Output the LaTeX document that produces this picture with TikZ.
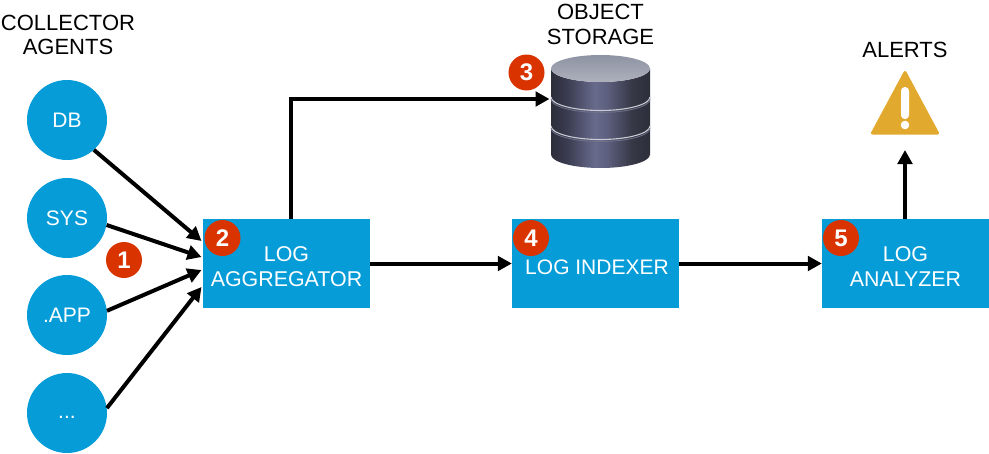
\documentclass[tikz,border=0pt]{standalone}
\usepackage{fontspec}
\setmainfont{Liberation Sans}
\usetikzlibrary{arrows.meta}
\definecolor{blu}{HTML}{059CD8}
\definecolor{badge}{HTML}{D93300}
\definecolor{warn}{HTML}{E2A92F}
\definecolor{cyla}{HTML}{2C2E3A}
\definecolor{cylb}{HTML}{3A3C50}
\definecolor{cylc}{HTML}{686A8C}
\definecolor{cyld}{HTML}{5E6080}
\definecolor{cyle}{HTML}{363846}
\definecolor{topa}{HTML}{8E93A3}
\definecolor{topb}{HTML}{AEB1BC}
\definecolor{bandl}{HTML}{C9CAD2}
\definecolor{bandd}{HTML}{70728A}
\pgfdeclarehorizontalshading{cylbody}{100bp}{
  color(0bp)=(cyla);
  color(25bp)=(cyla);
  color(33bp)=(cylb);
  color(47bp)=(cylc);
  color(53bp)=(cyld);
  color(66bp)=(cyle);
  color(75bp)=(cyla);
  color(100bp)=(cyla)}
\tikzset{
  txt/.style={font=\fontsize{22}{24.5}\selectfont,align=center,inner sep=0pt},
  agent/.style={circle,fill=blu,minimum size=80pt,inner sep=0pt,text=white,font=\fontsize{21}{24.5}\selectfont},
  box/.style={rectangle,fill=blu,minimum width=167pt,minimum height=89pt,inner sep=0pt},
  boxtxt/.style={text=white,align=center,inner sep=0pt,font=\fontsize{21.4}{24.5}\selectfont},
  num/.style={circle,fill=badge,minimum size=36pt,inner sep=0pt,text=white,font=\fontsize{24}{24}\selectfont\bfseries},
  conn/.style={draw=black,line width=4pt,-{Triangle[length=14pt,width=14.5pt]}},
  band/.style={line width=1.1pt,draw=#1}
}
\begin{document}
\begin{tikzpicture}[x=1pt,y=-1pt]
\useasboundingbox (0,0) rectangle (989,453);
% agents
\node[agent] (db) at (67,120) {DB};
\node[agent] (sys) at (67,218) {SYS};
\node[agent] (app) at (67,315) {.APP};
\node[agent] (more) at (67,413) {\raisebox{-5pt}[0pt][0pt]{...}};
% boxes
\node[box] (agg) at (286.5,263.5) {};
\node[boxtxt] (aggt) at (286.5,266.5) {LOG\\AGGREGATOR};
\node[box] (idx) at (595.5,263.5) {};
\node[boxtxt,font=\fontsize{21}{24.5}\selectfont] (idxt) at (597,267) {LOG INDEXER};
\node[box] (ana) at (905.5,263.5) {};
\node[boxtxt] (anat) at (905.5,266.5) {LOG\\ANALYZER};
% titles
\node[txt] (t1) at (68,35) {COLLECTOR\\AGENTS};
\node[txt] (t2) at (600.5,24.5) {OBJECT\\STORAGE};
\node[txt] (t3) at (905,50) {ALERTS};
% storage
\shade[shading=cylbody] (551,68.5) -- (551,154.5) arc[start angle=180,end angle=0,x radius=49.5,y radius=13.5] -- (650,68.5) arc[start angle=0,end angle=180,x radius=49.5,y radius=13.5] -- cycle;
\shade[top color=topa,bottom color=topb] (600.5,68.5) ellipse[x radius=49.5,y radius=13.5];
\draw[band=bandl] (551,97) arc[start angle=180,end angle=0,x radius=49.5,y radius=13.5];
\draw[band=bandl] (551,126) arc[start angle=180,end angle=0,x radius=49.5,y radius=13.5];
\draw[band=bandd,line width=.8pt] (551,99) arc[start angle=180,end angle=0,x radius=49.5,y radius=13.5];
\draw[band=bandd,line width=.8pt] (551,128) arc[start angle=180,end angle=0,x radius=49.5,y radius=13.5];
% alert
\fill[warn,draw=warn,line width=3pt,line join=round] (905,72.5) -- (937.5,133) -- (872.5,133) -- cycle;
\fill[white,rounded corners=3.8pt] (901,87) rectangle (909,119);
\fill[white] (905,125) circle[radius=4.3];
% coordinates
\coordinate (a1) at (201.5,241);
\coordinate (a2) at (201.5,257);
\coordinate (a3) at (201.5,270);
\coordinate (a4) at (201.5,287);
\coordinate (s1) at (291,99);
\coordinate (s2) at (549.5,99);
\coordinate (al) at (905,150);
% connectors
\draw[conn] (db.-48) -- (a1);
\draw[conn] (sys.-10) -- (a2);
\draw[conn] (app.6) -- (a3);
\draw[conn] (more.7) -- (a4);
\draw[conn] (agg.north -| s1) -- (s1) -- (s2);
\draw[conn] (agg.east) -- (idx.west);
\draw[conn] (idx.east) -- (ana.west);
\draw[conn] (ana.north -| al) -- (al);
% badges
\node[num] (n1) at (124,260) {1};
\node[num] (n2) at (222.5,238) {2};
\node[num] (n3) at (526.5,72.5) {3};
\node[num] (n4) at (531,238) {4};
\node[num] (n5) at (841,238) {5};
\end{tikzpicture}
\end{document}
